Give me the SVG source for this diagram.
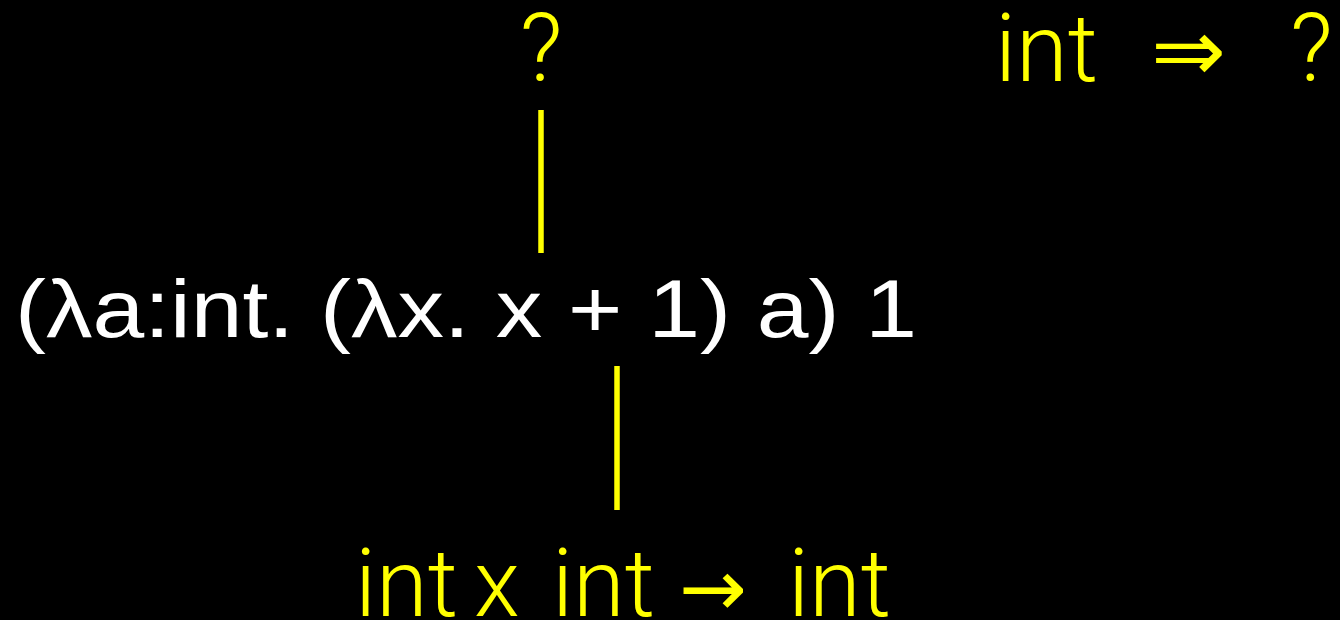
<svg xmlns="http://www.w3.org/2000/svg" width="1340" height="620" viewBox="0 0 1340 620">
<style>
.expr{font-family:"Liberation Sans",Arial,sans-serif;font-size:81px;fill:#ffffff}
.ty{font-family:Roboto,"Liberation Sans",sans-serif;font-weight:300;font-size:94px;fill:#ffff00}
.sym{font-family:"DejaVu Sans",sans-serif;font-weight:400}
.conn{stroke:#ffff00;stroke-width:5.5;fill:none}
</style>
<rect width="1340" height="620" fill="#000000"/>
<g id="expression">
<text class="expr" x="15" y="337" textLength="902" lengthAdjust="spacingAndGlyphs">(λa:int. (λx. x + 1) a) 1</text>
</g>
<g id="unknown-type">
<text class="ty" x="541" y="81" text-anchor="middle">?</text>
</g>
<g id="plus-type">
<text class="ty" y="616"><tspan x="355">int</tspan> <tspan x="474">x</tspan> <tspan x="552">int</tspan> <tspan class="sym" x="679" font-size="80" textLength="68" lengthAdjust="spacingAndGlyphs">→</tspan> <tspan x="788">int</tspan></text>
</g>
<g id="constraint">
<text class="ty" y="81"><tspan x="995">int</tspan> <tspan class="sym" x="1151" font-size="88" font-weight="300" textLength="75" lengthAdjust="spacingAndGlyphs">⇒</tspan> <tspan x="1290">?</tspan></text>
</g>
<g id="connectors">
<line class="conn" x1="541" y1="110" x2="541" y2="253"/>
<line class="conn" x1="617" y1="366" x2="617" y2="510"/>
</g>
</svg>
